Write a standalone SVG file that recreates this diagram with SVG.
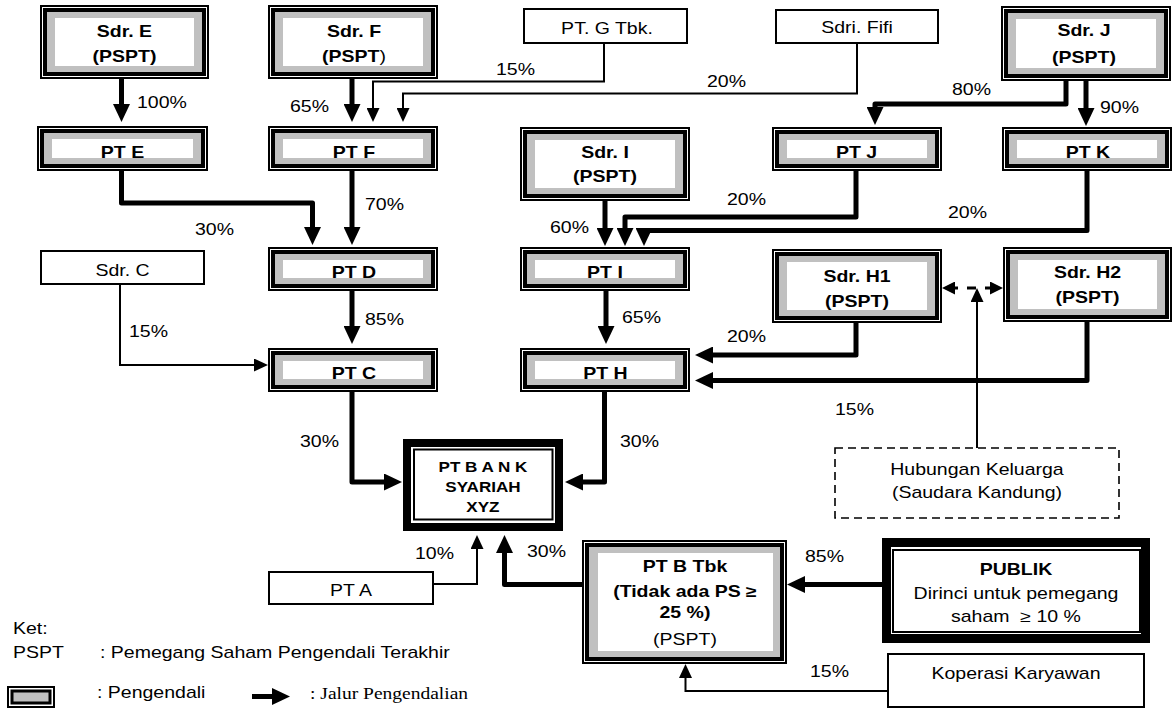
<svg xmlns="http://www.w3.org/2000/svg" width="1173" height="711" viewBox="0 0 1173 711">
<style>
text{font-family:"Liberation Sans",Arial,sans-serif;font-size:16px;fill:#000}
.c{text-anchor:middle;transform-box:fill-box;transform-origin:center;transform:scaleX(1.22)}
.l{transform-box:fill-box;transform-origin:left center;transform:scaleX(1.22)}
.bd{font-weight:bold}
.sm{font-size:14px}
.serif{font-family:"Liberation Serif","Times New Roman",serif}
.o{fill:#fff;stroke:#000;stroke-width:2}
.m{fill:#c0c0c0;stroke:#000;stroke-width:4}
.w{fill:#fff}
.bx{fill:#fff;stroke:#000;stroke-width:2}
.dash{fill:#fff;stroke:#000;stroke-width:1.6;stroke-dasharray:8 5}
.big{fill:#fff;stroke:#000}
.thin2{fill:none;stroke:#000;stroke-width:2}
.tk{fill:none;stroke:#000;stroke-width:5;stroke-linejoin:round;marker-end:url(#ah)}
.tn{fill:none;stroke:#000;stroke-width:2;marker-end:url(#at)}
.dd{fill:none;stroke:#000;stroke-width:3;stroke-dasharray:9 9;marker-start:url(#ad);marker-end:url(#ad)}
</style>
<defs>
<marker id="ah" viewBox="0 0 18 17" refX="10" refY="8.5" markerWidth="18" markerHeight="17" markerUnits="userSpaceOnUse" orient="auto"><path d="M0,0 L18,8.5 L0,17 Z"/></marker>
<marker id="at" viewBox="0 0 14 13" refX="10" refY="6.5" markerWidth="14" markerHeight="13" markerUnits="userSpaceOnUse" orient="auto"><path d="M0,0 L14,6.5 L0,13 Z"/></marker>
<marker id="ad" viewBox="0 0 13 13" refX="6" refY="6.5" markerWidth="13" markerHeight="13" markerUnits="userSpaceOnUse" orient="auto-start-reverse"><path d="M0,0 L13,6.5 L0,13 Z"/></marker>
</defs>
<rect width="1173" height="711" fill="#fff"/>

<g id="connectors">
<path class="tk" d="M121.5,79 V114"/>
<path class="tk" d="M352,79 V114"/>
<path class="tn" d="M604,43 V81.5 H373 V118"/>
<path class="tn" d="M857,43 V93.5 H403 V118"/>
<path class="tk" d="M1066,81 V104 H875 V117"/>
<path class="tk" d="M1086,81 V118"/>
<path class="tk" d="M121.5,171 V203 H312.5 V237"/>
<path class="tk" d="M352,171 V237"/>
<path class="tk" d="M605,201 V238"/>
<path class="tk" d="M856,171 V217 H625 V238"/>
<path class="tk" d="M1087,171 V230.5 H644 V238"/>
<path class="tn" d="M120,284 V365 H264"/>
<path class="tk" d="M352,291 V336"/>
<path class="tk" d="M606,291 V336"/>
<path class="tk" d="M856,323 V355 H703"/>
<path class="tk" d="M1087,322 V380.5 H703"/>
<path class="tk" d="M352,392 V482 H394"/>
<path class="tk" d="M604.5,392 V482 H573"/>
<path class="tn" d="M433,584 H477 V539"/>
<path class="tk" d="M582,584.5 H504.5 V543"/>
<path class="tk" d="M882,584.5 H795"/>
<path class="tn" d="M887,691 H685.5 V668"/>
<path class="dd" d="M949,288 H996"/>
<path class="tn" d="M977,448 V292"/>
</g>

<g id="labels">
<text class="l" x="137" y="108">100%</text>
<text class="l" x="290" y="112">65%</text>
<text class="l" x="496" y="75">15%</text>
<text class="l" x="707" y="87">20%</text>
<text class="l" x="952" y="95">80%</text>
<text class="l" x="1100" y="113">90%</text>
<text class="l" x="195" y="235">30%</text>
<text class="l" x="365" y="210">70%</text>
<text class="l" x="550" y="233">60%</text>
<text class="l" x="727" y="205">20%</text>
<text class="l" x="948" y="218">20%</text>
<text class="l" x="365" y="325">85%</text>
<text class="l" x="129" y="337">15%</text>
<text class="l" x="622" y="323">65%</text>
<text class="l" x="727" y="342">20%</text>
<text class="l" x="835" y="415">15%</text>
<text class="l" x="300" y="447">30%</text>
<text class="l" x="620" y="447">30%</text>
<text class="l" x="415" y="559">10%</text>
<text class="l" x="527" y="557">30%</text>
<text class="l" x="805" y="562">85%</text>
<text class="l" x="810" y="677">15%</text>
</g>

<g id="sdrE">
<rect class="o" x="41" y="6" width="167" height="72"/><rect class="m" x="45" y="10" width="159" height="64"/><rect class="w" x="55" y="18" width="139" height="48"/>
<text class="c bd" x="124.5" y="37">Sdr. E</text><text class="c bd" x="124.5" y="62">(PSPT)</text>
</g>
<g id="sdrF">
<rect class="o" x="269" y="6" width="168" height="72"/><rect class="m" x="273" y="10" width="160" height="64"/><rect class="w" x="283" y="18" width="140" height="48"/>
<text class="c bd" x="354" y="37">Sdr. F</text><text class="c bd" x="354" y="62">(PSPT<tspan font-weight="normal">)</tspan></text>
</g>
<g id="ptG">
<rect class="bx" x="524" y="9" width="163" height="34"/>
<text class="c" x="607" y="34">PT. G Tbk.</text>
</g>
<g id="fifi">
<rect class="bx" x="776" y="10" width="162" height="33"/>
<text class="c" x="857" y="33">Sdri. Fifi</text>
</g>
<g id="sdrJ">
<rect class="o" x="1002" y="7" width="168" height="73"/><rect class="m" x="1006" y="11" width="160" height="65"/><rect class="w" x="1016" y="19" width="140" height="49"/>
<text class="c bd" x="1084" y="36">Sdr. J</text><text class="c bd" x="1084" y="63">(PSPT)</text>
</g>
<g id="ptE">
<rect class="o" x="38" y="127" width="169" height="43"/><rect class="m" x="42" y="131" width="161" height="35"/><rect class="w" x="52" y="139" width="141" height="19"/>
<text class="c bd" x="122.5" y="158">PT E</text>
</g>
<g id="ptF">
<rect class="o" x="269" y="127" width="168" height="43"/><rect class="m" x="273" y="131" width="160" height="35"/><rect class="w" x="283" y="139" width="140" height="19"/>
<text class="c bd" x="354" y="158">PT F</text>
</g>
<g id="sdrI">
<rect class="o" x="521" y="128" width="168" height="72"/><rect class="m" x="525" y="132" width="160" height="64"/><rect class="w" x="535" y="140" width="140" height="48"/>
<text class="c bd" x="605" y="158">Sdr. I</text><text class="c bd" x="605" y="182">(PSPT)</text>
</g>
<g id="ptJ">
<rect class="o" x="773" y="128" width="168" height="42"/><rect class="m" x="777" y="132" width="160" height="34"/><rect class="w" x="787" y="140" width="140" height="18"/>
<text class="c bd" x="856.5" y="158">PT J</text>
</g>
<g id="ptK">
<rect class="o" x="1003" y="128" width="168" height="42"/><rect class="m" x="1007" y="132" width="160" height="34"/><rect class="w" x="1017" y="140" width="140" height="18"/>
<text class="c bd" x="1088" y="158">PT K</text>
</g>
<g id="sdrC">
<rect class="bx" x="41" y="251" width="163" height="33"/>
<text class="c" x="122.5" y="276">Sdr. C</text>
</g>
<g id="ptD">
<rect class="o" x="269" y="248" width="168" height="42"/><rect class="m" x="273" y="252" width="160" height="34"/><rect class="w" x="283" y="260" width="140" height="18"/>
<text class="c bd" x="354" y="278">PT D</text>
</g>
<g id="ptI">
<rect class="o" x="521" y="248" width="168" height="42"/><rect class="m" x="525" y="252" width="160" height="34"/><rect class="w" x="535" y="260" width="140" height="18"/>
<text class="c bd" x="605" y="278">PT I</text>
</g>
<g id="sdrH1">
<rect class="o" x="773" y="250" width="168" height="72"/><rect class="m" x="777" y="254" width="160" height="64"/><rect class="w" x="787" y="262" width="140" height="48"/>
<text class="c bd" x="857" y="282">Sdr. H1</text><text class="c bd" x="857" y="307">(PSPT)</text>
</g>
<g id="sdrH2">
<rect class="o" x="1004" y="248" width="167" height="73"/><rect class="m" x="1008" y="252" width="159" height="65"/><rect class="w" x="1018" y="260" width="139" height="49"/>
<text class="c bd" x="1087.5" y="278">Sdr. H2</text><text class="c bd" x="1087.5" y="303">(PSPT)</text>
</g>
<g id="ptC">
<rect class="o" x="269" y="349" width="168" height="42"/><rect class="m" x="273" y="353" width="160" height="34"/><rect class="w" x="283" y="361" width="140" height="18"/>
<text class="c bd" x="354" y="379">PT C</text>
</g>
<g id="ptH">
<rect class="o" x="521" y="349" width="168" height="42"/><rect class="m" x="525" y="353" width="160" height="34"/><rect class="w" x="535" y="361" width="140" height="18"/>
<text class="c bd" x="605.5" y="379">PT H</text>
</g>
<g id="hubungan">
<rect class="dash" x="835" y="448" width="284" height="70"/>
<text class="c" x="977" y="475">Hubungan Keluarga</text>
<text class="c" x="977" y="498">(Saudara Kandung)</text>
</g>
<g id="bank">
<rect class="big" x="407" y="443" width="152" height="84" stroke-width="8"/>
<rect class="thin2" x="414" y="449.5" width="138.5" height="70"/>
<text class="c bd sm" x="483" y="472">PT B A N K</text>
<text class="c bd sm" x="483" y="492">SYARIAH</text>
<text class="c bd sm" x="483" y="512">XYZ</text>
</g>
<g id="ptA">
<rect class="bx" x="269" y="572" width="164" height="32"/>
<text class="c" x="351" y="596">PT A</text>
</g>
<g id="ptB">
<rect class="o" x="583" y="541" width="203" height="122"/><rect class="m" x="587" y="545" width="195" height="114"/><rect class="w" x="598" y="553" width="175" height="98"/>
<text class="c bd" x="685" y="572">PT B Tbk</text>
<text class="c bd" x="685" y="597">(Tidak ada PS ≥</text>
<text class="c bd" x="685" y="618">25 %)</text>
<text class="c" x="685" y="645">(PSPT)</text>
</g>
<g id="publik">
<rect class="big" x="886.5" y="542.5" width="259" height="96" stroke-width="9"/>
<rect class="thin2" x="893" y="550" width="247" height="82"/>
<text class="c bd" x="1016" y="575">PUBLIK</text>
<text class="c" x="1016" y="599">Dirinci untuk pemegang</text>
<text class="c" x="1016" y="622" style="white-space:pre">saham  ≥ 10 %</text>
</g>
<g id="koperasi">
<rect class="bx" x="888" y="654" width="256" height="53"/>
<text class="c" x="1016" y="679">Koperasi Karyawan</text>
</g>
<g id="legend">
<text class="l" x="13" y="634">Ket:</text>
<text class="l" x="13" y="658">PSPT</text>
<text class="l" x="100" y="658">: Pemegang Saham Pengendali Terakhir</text>
<rect x="8" y="687" width="46" height="20" fill="#fff" stroke="#000" stroke-width="2"/>
<rect x="12" y="691" width="38" height="12" fill="#c0c0c0" stroke="#000" stroke-width="3"/>
<text class="l" x="97" y="698">: Pengendali</text>
<path class="tk" d="M252,696.5 H282"/>
<text class="l serif" x="310" y="699">: Jalur Pengendalian</text>
</g>
</svg>
